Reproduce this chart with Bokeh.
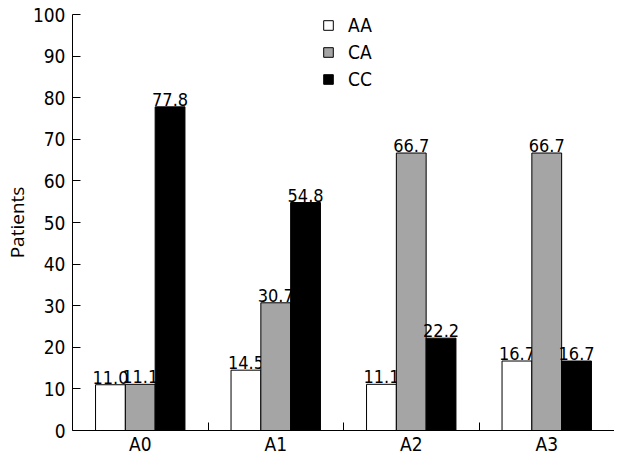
import numpy as np
from bokeh.plotting import figure
from bokeh.models import ColumnDataSource, FixedTicker, Legend, LegendItem, Range1d
from bokeh.core.properties import value
from bokeh.embed import file_html
from bokeh.resources import INLINE

categories = ["A0", "A1", "A2", "A3"]
series = ["AA", "CA", "CC"]
aa = [11.0, 14.5, 11.1, 16.7]
ca = [11.1, 30.7, 66.7, 66.7]
cc = [77.8, 54.8, 22.2, 16.7]
y_ticks = [0, 10, 20, 30, 40, 50, 60, 70, 80, 90, 100]

FONT = "DejaVu Sans Condensed"
FS = "19px"
colors = ["#ffffff", "#a5a5a5", "#000000"]
offsets = [-0.22, 0.0, 0.22]
bar_w = 0.22

p = figure(width=614, height=457, output_backend="svg", toolbar_location=None,
           x_range=Range1d(0, 4), y_range=Range1d(0, 100),
           min_border_left=66, min_border_right=0, min_border_top=14, min_border_bottom=0)
p.outline_line_color = None
p.grid.visible = False
p.background_fill_color = "white"

centers = np.arange(len(categories)) + 0.5
items = []
for name, vals, col, off in zip(series, [aa, ca, cc], colors, offsets):
    src = ColumnDataSource(dict(x=centers + off, top=vals,
                                lbl=["%.1f" % v for v in vals]))
    r = p.vbar(x="x", top="top", width=bar_w, source=src, fill_color=col,
               line_color="#000000", line_width=1)
    p.text(x="x", y="top", text="lbl", source=src, text_align="center",
           text_baseline="bottom", y_offset=-1, text_font=value(FONT),
           text_font_size="18px", text_color="#000000")
    items.append(LegendItem(label=name, renderers=[r]))

legend = Legend(items=items, location=(250, 340), orientation="vertical",
                border_line_color=None, background_fill_alpha=0,
                glyph_width=12, glyph_height=12, label_height=23, spacing=4,
                label_standoff=14, padding=0, margin=0,
                label_text_font=FONT, label_text_font_size=FS,
                label_text_color="#000000")
p.add_layout(legend, "center")

# y axis
p.yaxis.ticker = FixedTicker(ticks=y_ticks)
p.yaxis.major_tick_in = 8
p.yaxis.major_tick_out = 0
p.yaxis.major_tick_line_color = "black"
p.yaxis.minor_tick_line_color = None
p.yaxis.major_label_standoff = 7
p.yaxis.major_label_text_font = FONT
p.yaxis.major_label_text_font_size = FS
p.yaxis.major_label_text_color = "#000000"
p.yaxis.axis_label = "Patients"
p.yaxis.axis_label_text_font = "Open Sans"
p.yaxis.axis_label_text_font_size = "19px"
p.yaxis.axis_label_text_font_style = "normal"
p.yaxis.axis_label_text_color = "#000000"
p.yaxis.axis_label_standoff = 0
p.yaxis.axis_line_color = "black"

# x axis: labels at centres, ticks at boundaries
p.xaxis.ticker = FixedTicker(ticks=list(centers), minor_ticks=[1, 2, 3, 4])
p.xaxis.major_label_overrides = {float(c): lab for c, lab in zip(centers, categories)}
p.xaxis.major_tick_in = 0
p.xaxis.major_tick_out = 0
p.xaxis.minor_tick_in = 8
p.xaxis.minor_tick_out = 0
p.xaxis.minor_tick_line_color = "black"
p.xaxis.major_label_standoff = 2
p.xaxis.major_label_text_font = FONT
p.xaxis.major_label_text_font_size = FS
p.xaxis.major_label_text_color = "#000000"
p.xaxis.axis_line_color = "black"

open("out.html", "w").write(file_html(p, INLINE))
